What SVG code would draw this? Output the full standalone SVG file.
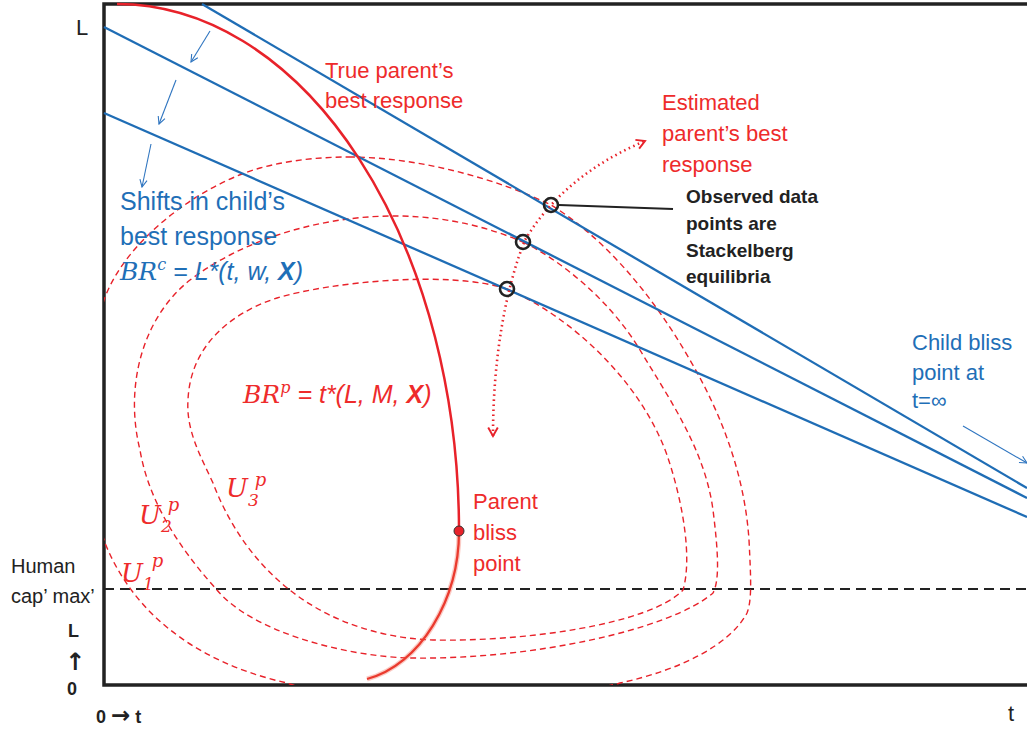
<svg xmlns="http://www.w3.org/2000/svg" width="1027" height="731" viewBox="0 0 1027 731">
<style>
.ax{fill:none;stroke:#222;stroke-width:3.5;stroke-linecap:square}
.hl{fill:none;stroke:#222;stroke-width:2;stroke-dasharray:10 6}
.blue{fill:none;stroke:#1f6db5;stroke-width:2.3}
.thin{fill:none;stroke:#2f75c0;stroke-width:1.1}
.dash{fill:none;stroke:#e8222a;stroke-width:1.4;stroke-dasharray:6 4}
.redc{fill:none;stroke:#e8222a;stroke-width:2.5}
.dot{fill:none;stroke:#e8222a;stroke-width:2.6;stroke-dasharray:1.5 3.5;stroke-linecap:butt}
.circ{fill:none;stroke:#222;stroke-width:2.6}
.t{font-family:"Liberation Sans",Arial,sans-serif}
.dj{font-family:"DejaVu Sans",sans-serif}
.rt{fill:#ee2b2b}
.bt{fill:#1f6fb7}
.kt{fill:#222}
.m{font-family:"DejaVu Serif","Liberation Serif",serif;font-style:italic}
</style>
<defs>
<clipPath id="plot"><rect x="104" y="4" width="923" height="681"/></clipPath>
<marker id="ab" viewBox="0 0 10 10" refX="9" refY="5" markerWidth="9" markerHeight="9" orient="auto" markerUnits="userSpaceOnUse"><path d="M1,1 L9,5 L1,9" fill="none" stroke="#2f75c0" stroke-width="1.2"/></marker>
<marker id="ar" viewBox="0 0 10 10" refX="8" refY="5" markerWidth="12" markerHeight="12" orient="auto-start-reverse" markerUnits="userSpaceOnUse"><path d="M1,1 L8,5 L1,9" fill="none" stroke="#e8222a" stroke-width="1.6"/></marker>
</defs>

<g id="axes">
<path class="ax" d="M104,4 L1027,4 M104,4 L104,685 L1027,685"/>
<path class="hl" d="M104,589 L1027,589"/>
</g>

<g id="indifference-curves" clip-path="url(#plot)">
<path id="U1" class="dash" d="M349,157 C420,157 500,180 551,205 C600,235 650,290 690,360 C725,420 745,480 749,540 C751,580 752,600 747,613 C730,645 680,670 620,683 C560,700 350,705 287,683 C220,668 140,630 105,543 C85,480 85,360 104,300 C125,240 200,185 260,168 C290,160 320,157 349,157 Z"/>
<path id="U2" class="dash" d="M523,242 C560,260 610,300 640,350 C670,400 705,450 713,510 C718,550 720,580 713,593 C670,630 530,660 410,658 C340,656 250,630 217,590 C190,560 150,510 140,450 C125,390 140,320 190,280 C250,235 330,215 400,216 C450,217 490,228 523,242 Z"/>
<path id="U3" class="dash" d="M507,289 C570,316 640,380 667,455 C684,505 692,560 683,590 C650,625 520,642 433,640 C330,636 250,580 213,483 C200,455 186,430 188,400 C190,350 225,315 277,298 C330,282 450,270 507,289 Z"/>
</g>

<g id="child-best-responses">
<path class="blue" d="M202,4 L1027,488"/>
<path class="blue" d="M104,27 L1027,498"/>
<path class="blue" d="M104,113 L1027,517"/>
</g>

<g id="connectors">
<path class="thin" d="M210,31 L191,62" marker-end="url(#ab)"/>
<path class="thin" d="M176,80 L159,124" marker-end="url(#ab)"/>
<path class="thin" d="M151,144 L142,187" marker-end="url(#ab)"/>
<path class="thin" d="M963,426 L1027,463" marker-end="url(#ab)"/>
<path class="dot" d="M493,436 C493,360 505,290 525,240 C555,190 600,160 645,141" marker-start="url(#ar)" marker-end="url(#ar)"/>
<path fill="none" stroke="#222" stroke-width="2" d="M559,205 L673,209"/>
</g>

<g id="true-parent-best-response">
<path class="redc" d="M117,4 A342,527 0 0 1 459,531"/>
<path fill="none" stroke="#f36a5a" stroke-width="5" stroke-opacity="0.35" d="M459,531 C459,600 420,665 367,679"/>
<path fill="none" stroke="#ea3a2e" stroke-width="2.3" d="M459,531 C459,600 420,665 367,679"/>
</g>

<g id="parent-bliss-point">
<circle cx="459" cy="531" r="5" fill="#e8222a" stroke="#333" stroke-width="1"/>
<text class="t rt" font-size="22"><tspan x="473" y="509">Parent</tspan><tspan x="473" y="540">bliss</tspan><tspan x="473" y="571">point</tspan></text>
</g>

<g id="equilibria">
<circle class="circ" cx="551" cy="205" r="7"/>
<circle class="circ" cx="523" cy="242" r="7"/>
<circle class="circ" cx="507" cy="289" r="7"/>
</g>

<g id="labels">
<text class="t kt" font-size="22" x="76" y="35">L</text>
<text class="t kt" font-size="22" x="1008" y="721">t</text>
<text class="t kt" font-size="20"><tspan x="11" y="573">Human</tspan><tspan x="11" y="603">cap’ max’</tspan></text>
<text class="t kt" font-size="18" font-weight="bold" x="68" y="637">L</text>
<text class="dj kt" font-size="24" font-weight="bold" x="65" y="670">↑</text>
<text class="t kt" font-size="18" font-weight="bold" x="67" y="695">0</text>
<text class="kt" font-size="18" font-weight="bold" x="96" y="723"><tspan class="t">0 </tspan><tspan class="dj" font-size="23">→</tspan><tspan class="t"> t</tspan></text>

<text class="t rt" font-size="22"><tspan x="325" y="78">True parent’s</tspan><tspan x="325" y="108">best response</tspan></text>
<text class="t rt" font-size="22"><tspan x="662" y="110">Estimated</tspan><tspan x="662" y="141">parent’s best</tspan><tspan x="662" y="172">response</tspan></text>
<text class="t kt" font-size="19" font-weight="bold"><tspan x="686" y="203">Observed data</tspan><tspan x="686" y="230">points are</tspan><tspan x="686" y="257">Stackelberg</tspan><tspan x="686" y="283">equilibria</tspan></text>
<text class="t bt" font-size="22"><tspan x="912" y="350">Child bliss</tspan><tspan x="912" y="380">point at</tspan><tspan x="912" y="408">t=∞</tspan></text>
<text class="t bt" font-size="25"><tspan x="120" y="210">Shifts in child’s</tspan><tspan x="120" y="245">best response</tspan></text>
<text class="bt" x="120" y="280" font-size="25"><tspan class="m">BR</tspan><tspan class="m" font-size="16" dy="-10">c</tspan><tspan class="t" font-style="italic" dy="10"> = L*(t, w, </tspan><tspan class="t" font-style="italic" font-weight="bold">X</tspan><tspan class="t" font-style="italic">)</tspan></text>
<text class="rt" x="243" y="403" font-size="25"><tspan class="m">BR</tspan><tspan class="m" font-size="16" dy="-10">p</tspan><tspan class="t" font-style="italic" dy="10"> = t*(L, M, </tspan><tspan class="t" font-style="italic" font-weight="bold">X</tspan><tspan class="t" font-style="italic">)</tspan></text>
<text class="m rt" font-size="26" x="226" y="497">U<tspan font-size="17" dy="9">3</tspan><tspan font-size="18" dx="-4" dy="-20">p</tspan></text>
<text class="m rt" font-size="26" x="139" y="524">U<tspan font-size="17" dy="8">2</tspan><tspan font-size="18" dx="-4" dy="-21">p</tspan></text>
<text class="m rt" font-size="26" x="121" y="582">U<tspan font-size="17" dy="8">1</tspan><tspan font-size="18" dx="-2" dy="-23">p</tspan></text>
</g>
</svg>
